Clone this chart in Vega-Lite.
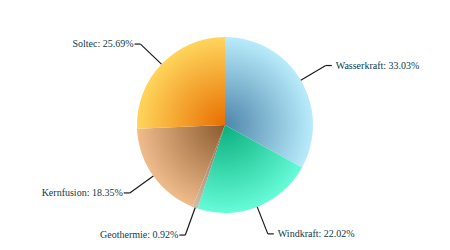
{
  "$schema": "https://vega.github.io/schema/vega-lite/v6.json",
  "width": 450,
  "height": 250,
  "padding": 0,
  "autosize": {"type": "fit", "contains": "padding"},
  "background": "white",
  "config": {"view": {"stroke": null}},
  "data": {
    "values": [
      {"name": "Wasserkraft", "value": 33.03, "order": 1},
      {"name": "Windkraft", "value": 22.02, "order": 2},
      {"name": "Geothermie", "value": 0.92, "order": 3},
      {"name": "Kernfusion", "value": 18.35, "order": 4},
      {"name": "Soltec", "value": 25.69, "order": 5}
    ]
  },
  "transform": [
    {"joinaggregate": [{"op": "sum", "field": "value", "as": "total"}]},
    {"window": [{"op": "sum", "field": "value", "as": "cum"}], "sort": [{"field": "order"}], "frame": [null, 0]},
    {"calculate": "(datum.cum - datum.value / 2) / datum.total * 2 * PI", "as": "mid"},
    {"calculate": "88 * sin(datum.mid)", "as": "x0"},
    {"calculate": "-88 * cos(datum.mid)", "as": "y0"},
    {"calculate": "117 * sin(datum.mid)", "as": "x1"},
    {"calculate": "-117 * cos(datum.mid)", "as": "y1"},
    {"calculate": "sin(datum.mid) > 0 ? 1 : -1", "as": "side"},
    {"calculate": "datum.x1 + datum.side * 6", "as": "x2"},
    {"calculate": "datum.name + ': ' + format(datum.value, '.2f') + '%'", "as": "label"}
  ],
  "layer": [
    {
      "mark": {"type": "arc", "radius": 88},
      "encoding": {
        "theta": {"field": "value", "type": "quantitative", "stack": true},
        "order": {"field": "order", "type": "quantitative"},
        "fill": {
          "condition": [
            {"test": "datum.name === 'Wasserkraft'", "value": {"gradient": "radial", "x1": 0.163, "y1": 0.674, "r1": 0, "x2": 0.163, "y2": 0.674, "r2": 0.674, "stops": [{"offset": 0, "color": "#4f86aa"}, {"offset": 1, "color": "#b8ecfc"}]}},
            {"test": "datum.name === 'Windkraft'", "value": {"gradient": "radial", "x1": 0.263, "y1": 0.079, "r1": 0, "x2": 0.263, "y2": 0.079, "r2": 0.842, "stops": [{"offset": 0, "color": "#0aaf7d"}, {"offset": 1, "color": "#66fcd8"}]}},
            {"test": "datum.name === 'Geothermie'", "value": {"gradient": "radial", "x1": 0.693, "y1": 0, "r1": 0, "x2": 0.693, "y2": 0, "r2": 1.053, "stops": [{"offset": 0, "color": "#7a6a55"}, {"offset": 1, "color": "#cdbfa8"}]}},
            {"test": "datum.name === 'Kernfusion'", "value": {"gradient": "radial", "x1": 1.0, "y1": 0.034, "r1": 0, "x2": 1.0, "y2": 0.034, "r2": 1.0, "stops": [{"offset": 0, "color": "#8a5a2e"}, {"offset": 1, "color": "#f0bc8c"}]}}
          ],
          "value": {"gradient": "radial", "x1": 0.979, "y1": 0.959, "r1": 0, "x2": 0.979, "y2": 0.959, "r2": 0.959, "stops": [{"offset": 0, "color": "#e86e00"}, {"offset": 1, "color": "#ffd55c"}]}
        }
      }
    },
    {
      "mark": {"type": "rule", "color": "#1a1a1a", "strokeWidth": 1.2},
      "encoding": {
        "x": {"field": "x0", "type": "quantitative", "scale": {"domain": [-225, 225]}, "axis": null},
        "y": {"field": "y0", "type": "quantitative", "scale": {"domain": [-125, 125], "reverse": true}, "axis": null},
        "x2": {"field": "x1"},
        "y2": {"field": "y1"}
      }
    },
    {
      "mark": {"type": "rule", "color": "#1a1a1a", "strokeWidth": 1.2},
      "encoding": {
        "x": {"field": "x1", "type": "quantitative", "scale": {"domain": [-225, 225]}, "axis": null},
        "y": {"field": "y1", "type": "quantitative", "scale": {"domain": [-125, 125], "reverse": true}, "axis": null},
        "x2": {"field": "x2"}
      }
    },
    {
      "transform": [{"filter": "datum.side > 0"}],
      "mark": {"type": "text", "align": "left", "baseline": "middle", "dx": 4, "font": "Times New Roman, Liberation Serif, serif", "fontSize": 10, "color": "#0f3a4a"},
      "encoding": {
        "x": {"field": "x2", "type": "quantitative", "scale": {"domain": [-225, 225]}, "axis": null},
        "y": {"field": "y1", "type": "quantitative", "scale": {"domain": [-125, 125], "reverse": true}, "axis": null},
        "text": {"field": "label"}
      }
    },
    {
      "transform": [{"filter": "datum.side < 0"}],
      "mark": {"type": "text", "align": "right", "baseline": "middle", "dx": -1, "font": "Times New Roman, Liberation Serif, serif", "fontSize": 10, "color": "#0f3a4a"},
      "encoding": {
        "x": {"field": "x2", "type": "quantitative", "scale": {"domain": [-225, 225]}, "axis": null},
        "y": {"field": "y1", "type": "quantitative", "scale": {"domain": [-125, 125], "reverse": true}, "axis": null},
        "text": {"field": "label"}
      }
    }
  ]
}
